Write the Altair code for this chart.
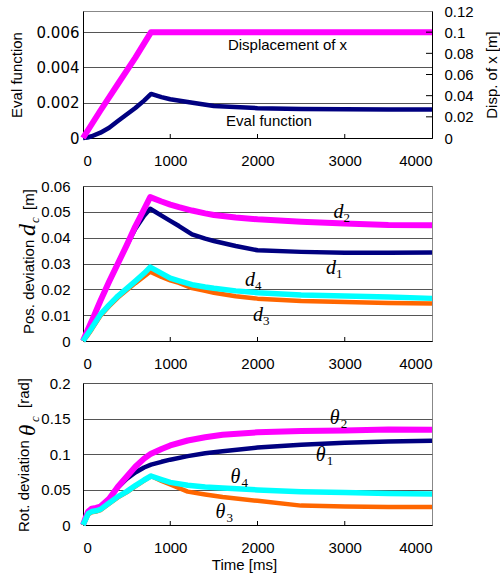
import altair as alt
import pandas as pd

# ---------------- data ----------------
time_eval = [0, 50, 100, 200, 300, 400, 500, 600, 700, 780, 900, 1000, 1200, 1500, 2000, 2500, 3000, 3500, 4000]
eval_function = [0, 0.00003, 0.0001, 0.0003, 0.00058, 0.00096, 0.00133, 0.0017, 0.00212, 0.0025,
                 0.00232, 0.0022, 0.00204, 0.00181, 0.00169, 0.00165, 0.00163, 0.00162, 0.00161]

time_disp = [0, 200, 400, 600, 780, 1000, 2000, 3000, 4000]
disp_x = [0, 0.026, 0.051, 0.076, 0.1, 0.1, 0.1, 0.1, 0.1]

time_d = [0, 50, 100, 200, 300, 400, 500, 600, 700, 770, 900, 1000, 1100, 1250, 1400, 1500, 1750,
          2000, 2500, 3000, 3500, 4000]
d1 = [0, 0.004, 0.0077, 0.0156, 0.023, 0.030, 0.037, 0.0435, 0.0485, 0.0512, 0.0485, 0.0465,
      0.0445, 0.0413, 0.0396, 0.0387, 0.0368, 0.0351, 0.0345, 0.0342, 0.0342, 0.0343]
d2 = [0, 0.004, 0.0077, 0.0156, 0.023, 0.030, 0.037, 0.0444, 0.051, 0.0557, 0.054, 0.0528,
      0.0518, 0.0505, 0.0494, 0.0488, 0.0478, 0.0471, 0.0462, 0.0455, 0.0449, 0.0448]
d3 = [0, 0.002, 0.0045, 0.0098, 0.0135, 0.0168, 0.0196, 0.0224, 0.025, 0.0268, 0.0248, 0.0235,
      0.0225, 0.0205, 0.0194, 0.0187, 0.0173, 0.0164, 0.0155, 0.0151, 0.0147, 0.0145]
d4 = [0, 0.0025, 0.005, 0.0103, 0.014, 0.0174, 0.0203, 0.0232, 0.0262, 0.0286, 0.0262, 0.0243,
      0.0233, 0.0218, 0.0209, 0.0204, 0.0194, 0.0187, 0.0178, 0.0174, 0.017, 0.0165]

time_th = [0, 30, 60, 100, 150, 200, 300, 400, 500, 600, 700, 780, 900, 1000, 1200, 1400, 1600, 2000, 2500, 3000, 3500, 4000]
th1 = [0, 0.01, 0.019, 0.023, 0.024, 0.026, 0.037, 0.053, 0.065, 0.074, 0.081, 0.085, 0.089, 0.092,
       0.097, 0.101, 0.104, 0.109, 0.113, 0.116, 0.1176, 0.1186]
th2 = [0, 0.01, 0.019, 0.023, 0.024, 0.026, 0.037, 0.054, 0.068, 0.082, 0.0935, 0.1005, 0.107, 0.112,
       0.119, 0.1236, 0.127, 0.1305, 0.1325, 0.133, 0.1345, 0.134]
th3 = [0, 0.007, 0.015, 0.018, 0.019, 0.021, 0.030, 0.039, 0.046, 0.0545, 0.0625, 0.069, 0.062, 0.057,
       0.047, 0.043, 0.0395, 0.034, 0.0273, 0.026, 0.0255, 0.0254]
th4 = [0, 0.008, 0.016, 0.019, 0.02, 0.022, 0.031, 0.040, 0.047, 0.0555, 0.0634, 0.069, 0.064, 0.060,
       0.056, 0.0535, 0.052, 0.0494, 0.047, 0.0456, 0.0442, 0.0438]

x_ticks = [0, 1000, 2000, 3000, 4000]
eval_ticks = [0, 0.002, 0.004, 0.006]
disp_ticks = [0, 0.02, 0.04, 0.06, 0.08, 0.1, 0.12]
d_ticks = [0, 0.01, 0.02, 0.03, 0.04, 0.05, 0.06]
th_ticks = [0, 0.05, 0.1, 0.15, 0.2]

top_label_text = ["Displacement of x", "Eval function"]
top_label_t = [2344, 2132]
top_label_v = [0.005, 0.00068]

d_label_sub = ["2", "1", "4", "3"]
d_label_t = [2928, 2841, 1913, 2006]
d_label_v = [0.0476, 0.0259, 0.0213, 0.00774]

th_label_sub = ["2", "1", "4", "3"]
th_label_t = [2885, 2724, 1747, 1575]
th_label_v = [0.1423, 0.0901, 0.0592, 0.0099]

# ---------------- styling ----------------
W = 349
H_TOP, H_MID, H_BOT = 127, 155, 142
SANS = "Liberation Sans"
SERIF = "Liberation Serif"
NAVY, PINK, CYAN, ORANGE = "#000080", "#FF00FF", "#00FFFF", "#FF6600"
GRID = "#555555"

x_scale = alt.Scale(domain=[0, 4000], nice=False)


def x_axis(**kw):
    return alt.Axis(values=x_ticks, format="d", grid=False, ticks=False, labelPadding=15,
                    domainColor="black", **kw)


def series_df(t, v):
    return pd.DataFrame({"t": t, "v": v})


def inner_xticks(h):
    df = pd.DataFrame({"t": x_ticks[1:-1]})
    return alt.Chart(df).mark_rule(color="black", strokeWidth=1).encode(
        x=alt.X("t:Q", scale=x_scale), y=alt.value(h), y2=alt.value(h - 4))


# ---------------- top panel ----------------
top_x = alt.X("t:Q", scale=x_scale, axis=x_axis(), title=None)
eval_scale = alt.Scale(domain=[0, 0.0072], nice=False)
disp_scale = alt.Scale(domain=[0, 0.12], nice=False)

eval_y = alt.Y("v:Q", scale=eval_scale, title="Eval function",
               axis=alt.Axis(values=eval_ticks, format="~g", grid=True, gridColor=GRID, ticks=False,
                             labelPadding=4, labelFont="DejaVu Sans", labelFontSize=15,
                             titleX=-62, titleAngle=270, titleBaseline="alphabetic",
                             domainColor="black"))
disp_y = alt.Y("v:Q", scale=disp_scale, title="Disp. of x [m]",
               axis=alt.Axis(orient="right", values=disp_ticks, grid=False, ticks=False,
                             labelExpr="format(round(datum.value * 100) / 100, '~g')",
                             labelOverlap=False, labelFlush=False,
                             labelPadding=12, titleX=64, titleAngle=270, titleBaseline="alphabetic",
                             domainColor="black"))

eval_line = alt.Chart(series_df(time_eval, eval_function)).mark_line(
    color=NAVY, strokeWidth=4.5, strokeJoin="round").encode(x=top_x, y=eval_y)
disp_line = alt.Chart(series_df(time_disp, disp_x)).mark_line(
    color=PINK, strokeWidth=6, strokeJoin="round").encode(x=top_x, y=disp_y)

top_text = alt.Chart(pd.DataFrame({"t": top_label_t, "v": top_label_v, "s": top_label_text})).mark_text(
    font=SANS, fontSize=15, align="center", baseline="alphabetic", color="black").encode(
    x=alt.X("t:Q", scale=x_scale), y=alt.Y("v:Q", scale=eval_scale, axis=None), text="s:N")

right_ticks = alt.Chart(pd.DataFrame({"v": disp_ticks[1:-1]})).mark_rule(color="black").encode(
    y=alt.Y("v:Q", scale=disp_scale, axis=None), x=alt.value(W - 6), x2=alt.value(W))

top = alt.layer(eval_line, disp_line, top_text, right_ticks, inner_xticks(H_TOP)).resolve_scale(
    y="independent").properties(width=W, height=H_TOP)

# ---------------- middle panel ----------------
mid_x = alt.X("t:Q", scale=x_scale, axis=x_axis(), title=None)
mid_scale = alt.Scale(domain=[0, 0.06], nice=False)
mid_y = alt.Y("v:Q", scale=mid_scale, title=None,
              axis=alt.Axis(values=d_ticks, format="~g", grid=True, gridColor=GRID, ticks=False,
                            labelPadding=13, domainColor="black"))


def mline(t, v, color, w, x_enc, y_enc):
    return alt.Chart(series_df(t, v)).mark_line(color=color, strokeWidth=w, strokeJoin="round").encode(
        x=x_enc, y=y_enc)


def title_piece(text, x, y, font, size, style="normal"):
    return alt.Chart(pd.DataFrame({"s": [text]})).mark_text(
        angle=270, align="left", baseline="alphabetic", font=font, fontSize=size,
        fontStyle=style, color="black").encode(text="s:N", x=alt.value(x), y=alt.value(y))


def labels(t, v, main, subs, x_enc, y_enc, size_main, dx, dy):
    df = pd.DataFrame({"t": t, "v": v, "m": [main] * len(t), "s": subs})
    m = alt.Chart(df).mark_text(font=SERIF, fontStyle="italic", fontSize=size_main, align="center",
                                baseline="alphabetic", color="black").encode(x=x_enc, y=y_enc, text="m:N")
    s = alt.Chart(df).mark_text(font=SERIF, fontSize=13, align="left", baseline="alphabetic",
                                dx=dx, dy=dy, color="black").encode(x=x_enc, y=y_enc, text="s:N")
    return [m, s]


mid = alt.layer(
    mline(time_d, d1, NAVY, 4.5, mid_x, mid_y),
    mline(time_d, d2, PINK, 6, mid_x, mid_y),
    mline(time_d, d3, ORANGE, 4.5, mid_x, mid_y),
    mline(time_d, d4, CYAN, 5.5, mid_x, mid_y),
    *labels(d_label_t, d_label_v, "d", d_label_sub, mid_x, mid_y, 20, 5, 4),
    title_piece("Pos. deviation", -49, 148, SANS, 15),
    title_piece("d", -48, 50, SERIF, 24, "italic"),
    title_piece("c", -44, 37, SERIF, 13, "italic"),
    title_piece("[m]", -49, 24, SANS, 15),
    inner_xticks(H_MID),
).properties(width=W, height=H_MID)

# ---------------- bottom panel ----------------
bot_x = alt.X("t:Q", scale=x_scale, title="Time [ms]",
              axis=x_axis(titleX=161, titleY=44, titleBaseline="alphabetic"))
bot_scale = alt.Scale(domain=[0, 0.2], nice=False)
bot_y = alt.Y("v:Q", scale=bot_scale, title=None,
              axis=alt.Axis(values=th_ticks, format="~g", grid=True, gridColor=GRID, ticks=False,
                            labelPadding=13, domainColor="black"))

bot = alt.layer(
    mline(time_th, th1, NAVY, 4.5, bot_x, bot_y),
    mline(time_th, th2, PINK, 6, bot_x, bot_y),
    mline(time_th, th3, ORANGE, 4.5, bot_x, bot_y),
    mline(time_th, th4, CYAN, 5.5, bot_x, bot_y),
    *labels(th_label_t, th_label_v, "θ", th_label_sub, bot_x, bot_y, 20, 6, 4),
    title_piece("Rot. deviation", -54, 149, SANS, 15),
    title_piece("θ", -48, 53, SERIF, 23, "italic"),
    title_piece("c", -44, 39, SERIF, 13, "italic"),
    title_piece("[rad]", -54, 25, SANS, 15),
    inner_xticks(H_BOT),
).properties(width=W, height=H_BOT)

lower = alt.vconcat(mid, bot, spacing=42, bounds="flush")
chart = alt.vconcat(top, lower, spacing=48, bounds="flush").properties(
    padding={"left": 8, "top": 3, "right": 0, "bottom": 0}
).configure_view(stroke="#888888", strokeWidth=1).configure_axis(
    labelFont=SANS, labelFontSize=15, labelColor="black",
    titleFont=SANS, titleFontSize=15, titleFontWeight="normal", titleColor="black",
    domainColor="black", gridColor=GRID, gridWidth=1
)

chart.save("out.html", embed_options={"renderer": "svg", "actions": False})
